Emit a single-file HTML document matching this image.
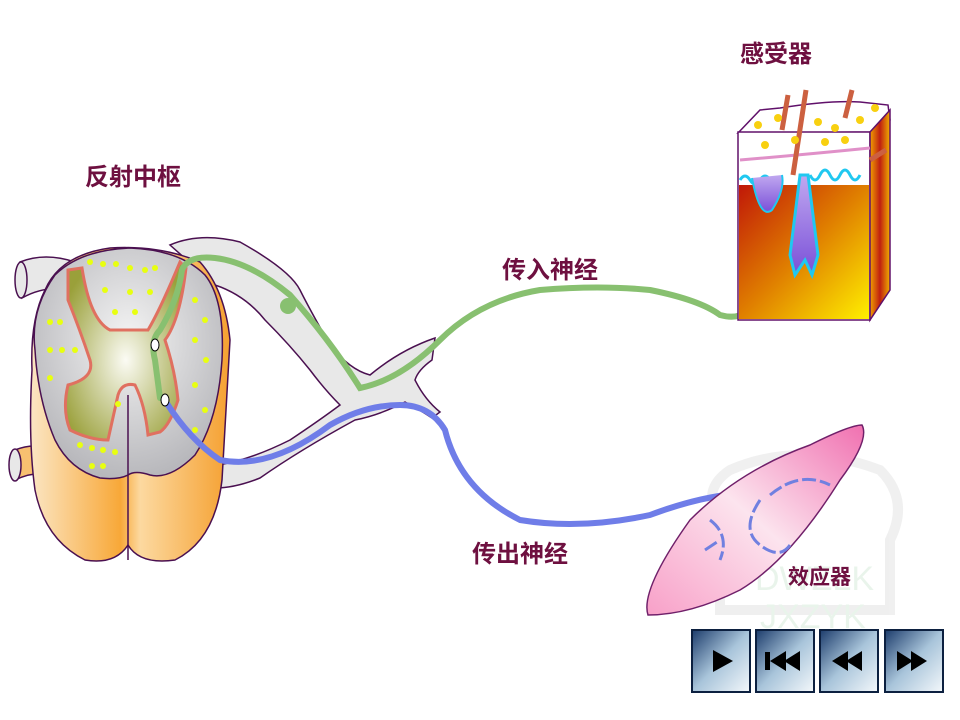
<!DOCTYPE html>
<html><head><meta charset="utf-8"><style>
body{margin:0;background:#fff;width:960px;height:720px;overflow:hidden}
svg{display:block}
.lbl{font-family:"Liberation Sans","Noto Sans CJK SC","WenQuanYi Zen Hei",sans-serif;font-weight:bold;fill:#6e1040;font-size:24px}
</style></head><body>
<svg width="960" height="720" viewBox="0 0 960 720">
<defs>
<radialGradient id="gm" cx="0.5" cy="0.55" r="0.6"><stop offset="0" stop-color="#fbfbf4"/><stop offset="1" stop-color="#9aa03a"/></radialGradient>
<radialGradient id="wm" cx="0.5" cy="0.4" r="0.6"><stop offset="0" stop-color="#f4f4f4"/><stop offset="1" stop-color="#b8b8bc"/></radialGradient>
<linearGradient id="or" x1="0" y1="0" x2="1" y2="0"><stop offset="0" stop-color="#fbe6c4"/><stop offset="0.45" stop-color="#f8a838"/><stop offset="0.55" stop-color="#fcd9a0"/><stop offset="1" stop-color="#f5a030"/></linearGradient>
<linearGradient id="sk" x1="0" y1="0" x2="1" y2="1"><stop offset="0" stop-color="#c01808"/><stop offset="0.5" stop-color="#e08000"/><stop offset="1" stop-color="#fff000"/></linearGradient>
<linearGradient id="sk2" x1="0" y1="0" x2="1" y2="0"><stop offset="0" stop-color="#f0a000"/><stop offset="0.5" stop-color="#c02010"/><stop offset="1" stop-color="#f0b000"/></linearGradient>
<linearGradient id="ms" x1="0" y1="1" x2="1" y2="0"><stop offset="0" stop-color="#f8a0c8"/><stop offset="0.5" stop-color="#fce4ee"/><stop offset="1" stop-color="#f070b0"/></linearGradient>
<linearGradient id="bt" x1="0" y1="0" x2="1" y2="1"><stop offset="0" stop-color="#1c3c6c"/><stop offset="0.5" stop-color="#a8c4da"/><stop offset="1" stop-color="#f4f8fb"/></linearGradient>
<linearGradient id="fol" x1="0" y1="0" x2="0" y2="1"><stop offset="0" stop-color="#c0a8f0"/><stop offset="1" stop-color="#7a50d8"/></linearGradient>
</defs>

<g opacity="0.22">
<path d="M730,470 Q800,440 880,470 Q910,500 890,540 L890,610 L720,610 L720,520 Q700,490 730,470Z" fill="none" stroke="#bbb" stroke-width="10"/>
<text x="755" y="590" font-family="Liberation Sans,sans-serif" font-size="34" fill="#9fd0a8">DWZLK</text>
<text x="760" y="628" font-family="Liberation Sans,sans-serif" font-size="34" fill="#9fd0a8">JXZYK</text>
</g>

<g fill="#e8e8e8" stroke="#4a1050" stroke-width="1.5">
<path d="M170,245 Q200,232 240,242 Q290,270 300,290 Q310,310 330,345 Q350,370 370,375 Q400,350 435,338 L432,360 Q418,370 415,380 Q425,400 440,412 L432,418 Q420,410 405,402 Q380,415 355,420 Q300,450 260,478 Q235,488 215,488 L218,465 Q250,460 290,440 Q320,420 340,405 Q325,390 310,370 Q290,345 265,320 Q245,295 215,285 Z"/>
<path d="M20,262 Q45,252 75,262 L70,290 Q45,285 22,298 Z"/>
<ellipse cx="21" cy="280" rx="6" ry="18"/>
<path d="M15,450 Q40,440 60,455 L60,475 Q35,470 15,480 Z" fill="#f8c070"/>
<ellipse cx="15" cy="465" rx="6" ry="16"/>
</g>
<g>
<path d="M32,370 Q30,320 45,290 Q60,255 110,248 Q160,245 200,262 Q225,290 230,340 L222,480 Q215,540 175,560 Q140,565 128,545 Q115,565 85,560 Q45,540 35,490 Q28,440 32,370Z" fill="url(#or)" stroke="#4a1050" stroke-width="1.5"/>
<path d="M35,350 Q30,310 55,275 Q80,250 130,248 Q180,250 205,275 Q225,300 222,360 Q218,420 195,455 Q170,480 150,475 Q135,470 128,475 Q118,480 100,478 Q70,470 55,440 Q38,400 35,350Z" fill="url(#wm)" stroke="#4a1050" stroke-width="1.5"/>
<path d="M68,270 L82,268 Q90,320 110,330 L148,330 Q160,310 180,262 L186,268 Q180,320 165,340 Q175,370 178,400 Q170,425 160,432 L148,435 Q145,405 135,385 Q122,382 118,395 L108,440 Q90,440 70,430 Q62,410 68,385 Q95,378 90,360 Q80,330 68,300Z" fill="url(#gm)" stroke="#e07060" stroke-width="3"/>
<line x1="128" y1="395" x2="128" y2="560" stroke="#4a1050" stroke-width="1.5"/>
<g fill="#e8ff10">
<circle cx="90" cy="262" r="3"/><circle cx="103" cy="264" r="3"/><circle cx="116" cy="264" r="3"/><circle cx="130" cy="268" r="3"/><circle cx="145" cy="270" r="3"/><circle cx="155" cy="268" r="3"/>
<circle cx="105" cy="290" r="3"/><circle cx="130" cy="292" r="3"/><circle cx="150" cy="292" r="3"/><circle cx="115" cy="312" r="3"/><circle cx="135" cy="312" r="3"/>
<circle cx="50" cy="322" r="3"/><circle cx="60" cy="322" r="3"/><circle cx="50" cy="350" r="3"/><circle cx="62" cy="350" r="3"/><circle cx="75" cy="350" r="3"/><circle cx="50" cy="378" r="3"/>
<circle cx="195" cy="300" r="3"/><circle cx="205" cy="320" r="3"/><circle cx="195" cy="340" r="3"/><circle cx="206" cy="360" r="3"/><circle cx="195" cy="385" r="3"/><circle cx="205" cy="410" r="3"/><circle cx="195" cy="430" r="3"/>
<circle cx="80" cy="445" r="3"/><circle cx="92" cy="448" r="3"/><circle cx="103" cy="450" r="3"/><circle cx="115" cy="452" r="3"/><circle cx="92" cy="466" r="3"/><circle cx="103" cy="466" r="3"/><circle cx="118" cy="404" r="3"/>
</g>
</g>

<path d="M160,398 L155,360 Q150,340 160,330 Q178,300 182,270 Q188,255 215,258 Q250,262 290,295 Q330,340 360,388 Q400,380 440,340 Q480,300 540,290 Q600,285 650,290 Q700,300 720,315 Q745,322 758,300 Q765,260 768,225 Q770,205 778,190" fill="none" stroke="#88c070" stroke-width="6" stroke-linecap="round"/>
<circle cx="288" cy="306" r="8" fill="#88c070"/>
<path d="M166,402 Q190,440 220,460 Q270,470 330,425 Q365,405 400,405 Q430,405 445,430 Q460,490 520,520 Q580,530 650,515 Q690,500 725,495" fill="none" stroke="#6f7de8" stroke-width="6" stroke-linecap="round"/>
<ellipse cx="155" cy="345" rx="4" ry="6" fill="#fff" stroke="#000" stroke-width="1"/>
<ellipse cx="165" cy="400" rx="4" ry="6" fill="#fff" stroke="#000" stroke-width="1"/>

<g>
<path d="M738,133 L760,110 L780,108 Q830,100 860,102 L888,105 L890,120 L870,132 Z" fill="#fff" stroke="#60106a" stroke-width="1.5"/>
<rect x="738" y="132" width="132" height="188" fill="#fff" stroke="#60106a" stroke-width="1.5"/>
<rect x="739" y="185" width="130" height="134" fill="url(#sk)"/>
<path d="M870,132 L890,110 L890,290 L870,320 Z" fill="url(#sk2)" stroke="#60106a" stroke-width="1.5"/>
<path d="M740,160 Q800,155 870,148" fill="none" stroke="#e090c8" stroke-width="3"/>
<path d="M740,180 q5,-8 10,0 t10,0 t10,0 t10,0 M810,175 q5,10 10,0 t10,0 t10,0 t10,0 t10,0" fill="none" stroke="#20c8f0" stroke-width="3"/>
<path d="M800,175 L790,255 L795,275 L805,260 L812,275 L818,255 L808,175 Z" fill="url(#fol)" stroke="#20c8f0" stroke-width="3"/>
<path d="M752,178 Q760,220 772,210 Q785,190 782,175" fill="url(#fol)" stroke="#20c8f0" stroke-width="2"/>
<path d="M788,95 L782,130 M806,90 L793,175 M852,90 L845,118 M870,160 L886,150" stroke="#cc6040" stroke-width="5" fill="none"/>
<g fill="#f8d010"><circle cx="758" cy="125" r="4"/><circle cx="778" cy="118" r="4"/><circle cx="795" cy="140" r="4"/><circle cx="818" cy="122" r="4"/><circle cx="835" cy="128" r="4"/><circle cx="860" cy="120" r="4"/><circle cx="875" cy="108" r="4"/><circle cx="765" cy="145" r="4"/><circle cx="825" cy="142" r="4"/><circle cx="845" cy="140" r="4"/></g>
</g>

<path d="M648,615 Q640,590 690,520 Q740,470 810,445 Q850,425 862,425 Q870,440 840,480 Q790,560 740,590 Q690,615 648,615Z" fill="url(#ms)" stroke="#70206a" stroke-width="1.5"/>
<path d="M710,520 Q730,535 720,560 M760,500 Q740,530 760,545 Q780,560 790,545 M770,495 Q800,470 830,485 M705,550 L720,540" fill="none" stroke="#7080e0" stroke-width="3" stroke-dasharray="14,4"/>

<text class="lbl" x="85" y="185">反射中枢</text>
<text class="lbl" x="740" y="62">感受器</text>
<text class="lbl" x="502" y="278">传入神经</text>
<text class="lbl" x="472" y="562">传出神经</text>
<text class="lbl" x="788" y="584" style="font-size:21px">效应器</text>

<g><rect x="692" y="630" width="58" height="62" fill="url(#bt)" stroke="#0c2040" stroke-width="2"/><path d="M713,650 L733,661 L713,672Z" fill="#000"/></g>
<g><rect x="756" y="630" width="58" height="62" fill="url(#bt)" stroke="#0c2040" stroke-width="2"/><rect x="765" y="652" width="5" height="18" fill="#000"/><path d="M770,661 L786,651 L786,671Z M784,661 L800,651 L800,671Z" fill="#000"/></g>
<g><rect x="820" y="630" width="58" height="62" fill="url(#bt)" stroke="#0c2040" stroke-width="2"/><path d="M832,661 L848,651 L848,671Z M846,661 L862,651 L862,671Z" fill="#000"/></g>
<g><rect x="885" y="630" width="58" height="62" fill="url(#bt)" stroke="#0c2040" stroke-width="2"/><path d="M897,651 L913,661 L897,671Z M911,651 L927,661 L911,671Z" fill="#000"/></g>
</svg>
</body></html>
